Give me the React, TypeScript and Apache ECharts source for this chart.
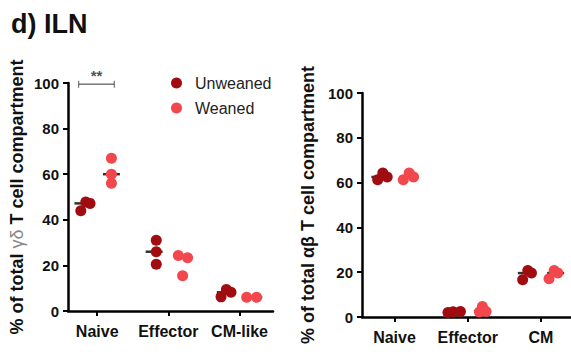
import React, { useEffect, useRef } from "react";
import * as echarts from "echarts";

// ---- Data ----
const categoriesLeft = ["Naive", "Effector", "CM-like"];
const categoriesRight = ["Naive", "Effector", "CM"];
const groups = ["Unweaned", "Weaned"];

// γδ T cells (left panel): values per category
const gdUnweaned = [
  [44, 47.8, 47.2],
  [31, 26, 20.5],
  [6.2, 9.4, 8.2],
];
const gdWeaned = [
  [67, 60, 56],
  [24.3, 23.4, 15.5],
  [6, 6],
];
// αβ T cells (right panel)
const abUnweaned = [
  [61.3, 64.3, 62.5],
  [2.0, 2.3, 2.5],
  [16.6, 20.8, 19.6],
];
const abWeaned = [
  [61.3, 64.3, 62.5],
  [2.2, 4.7, 2.5],
  [17.1, 20.8, 19.6],
];

// horizontal jitter of each dot within its group (category units)
const gdUnweanedJitter = [
  [-0.03, 0.04, 0.1],
  [0.03, 0.03, 0.03],
  [-0.06, 0.015, 0.08],
];
const gdWeanedJitter = [
  [0, 0, 0],
  [-0.06, 0.07, 0],
  [-0.1, 0.04],
];
const abUnweanedJitter = [
  [-0.03, 0.04, 0.1],
  [-0.07, 0, 0.1],
  [-0.05, 0.02, 0.07],
];
const abWeanedJitter = [
  [-0.08, 0, 0.06],
  [-0.04, 0, 0.05],
  [-0.09, -0.02, 0.03],
];

const significance = "**";

// ---- Styling ----
const COLOR_UNWEANED = "#a10c10";
const COLOR_WEANED = "#f2474c";
const FONT = "'Liberation Sans', Arial, Helvetica, sans-serif";
const GROUP_OFFSET = [-0.2, 0.2];

function median(a: number[]) {
  const s = [...a].sort((x, y) => x - y);
  const m = Math.floor(s.length / 2);
  return s.length % 2 ? s[m] : (s[m - 1] + s[m]) / 2;
}

function points(vals: number[][], jit: number[][], g: number) {
  const out: number[][] = [];
  vals.forEach((arr, c) =>
    arr.forEach((v, i) => out.push([c + GROUP_OFFSET[g] + jit[c][i], v]))
  );
  return out;
}

function medians(vals: number[][], g: number) {
  return vals.map((arr, c) => [c + GROUP_OFFSET[g], median(arr)]);
}

export default function App() {
  const ref = useRef<HTMLDivElement>(null);

  useEffect(() => {
    if (!ref.current) return;
    const chart = echarts.init(ref.current, undefined, { renderer: "svg" });

    const yAxisBase = (gridIndex: number, name: string, nameGap: number) => ({
      type: "value",
      gridIndex,
      min: 0,
      max: 100,
      interval: 20,
      name,
      nameLocation: "middle",
      nameGap,
      nameRotate: 90,
      nameTextStyle: {
        rich: {
          b: { fontFamily: FONT, fontWeight: "bold", fontSize: 18, color: "#111" },
          g: { fontFamily: FONT, fontWeight: "normal", fontSize: 18, color: "#888" },
        },
      },
      axisLine: { show: true, onZero: false, lineStyle: { color: "#000", width: 2.5 } },
      axisTick: { show: true, length: 5, lineStyle: { color: "#000", width: 2 } },
      axisLabel: {
        fontFamily: FONT,
        fontWeight: "bold",
        fontSize: 15,
        color: "#111",
        margin: 9,
      },
      splitLine: { show: false },
    });

    const xAxisBase = (gridIndex: number, cats: string[], min: number, max: number) => ({
      type: "value",
      gridIndex,
      min,
      max,
      axisLine: { show: true, onZero: false, lineStyle: { color: "#000", width: 2.5 } },
      axisTick: {
        show: true,
        length: 5,
        customValues: [0, 1, 2],
        lineStyle: { color: "#000", width: 2 },
      },
      axisLabel: {
        customValues: [0, 1, 2],
        formatter: (v: number) => cats[Math.round(v)] ?? "",
        fontFamily: FONT,
        fontWeight: "bold",
        fontSize: 16,
        color: "#111",
        margin: 12,
      },
      splitLine: { show: false },
    });

    const dotSeries = (name: string, data: number[][], color: string, idx: number) => ({
      name,
      type: "scatter",
      xAxisIndex: idx,
      yAxisIndex: idx,
      data,
      symbol: "circle",
      symbolSize: 11,
      itemStyle: { color, opacity: 1 },
      z: 3,
    });

    const medianSeries = (data: number[][], idx: number) => ({
      name: "median",
      type: "scatter",
      xAxisIndex: idx,
      yAxisIndex: idx,
      data,
      symbol: "rect",
      symbolSize: [17, 2.5],
      itemStyle: { color: "#000" },
      silent: true,
      z: 2,
    });

    const bx0 = GROUP_OFFSET[0] - 0.06;
    const bx1 = GROUP_OFFSET[1] + 0.04;
    const by = 99.5;

    chart.setOption({
      animation: false,
      backgroundColor: "#fff",
      title: {
        text: "d) ILN",
        left: 6,
        top: 5,
        textStyle: { fontFamily: FONT, fontWeight: "bold", fontSize: 27, color: "#111" },
      },
      legend: {
        data: groups,
        orient: "vertical",
        left: 166,
        top: 70,
        itemGap: 9,
        itemWidth: 11,
        itemHeight: 11,
        icon: "circle",
        textStyle: { fontFamily: FONT, fontSize: 16, color: "#222", padding: [0, 0, 0, 8] },
      },
      grid: [
        { left: 68, top: 83, width: 205, height: 228 },
        { left: 362, top: 93, width: 209, height: 224 },
      ],
      xAxis: [
        xAxisBase(0, categoriesLeft, -0.41, 2.47),
        xAxisBase(1, categoriesRight, -0.444, 2.41),
      ],
      yAxis: [
        yAxisBase(0, "{b|% of total }{g|γδ}{b| T cell compartment}", 42),
        yAxisBase(1, "{b|% of total αβ T cell compartment}", 45),
      ],
      series: [
        medianSeries(medians(gdUnweaned, 0), 0),
        medianSeries(medians(gdWeaned, 1), 0),
        dotSeries(groups[0], points(gdUnweaned, gdUnweanedJitter, 0), COLOR_UNWEANED, 0),
        dotSeries(groups[1], points(gdWeaned, gdWeanedJitter, 1), COLOR_WEANED, 0),
        medianSeries(medians(abUnweaned, 0), 1),
        medianSeries(medians(abWeaned, 1), 1),
        dotSeries(groups[0], points(abUnweaned, abUnweanedJitter, 0), COLOR_UNWEANED, 1),
        dotSeries(groups[1], points(abWeaned, abWeanedJitter, 1), COLOR_WEANED, 1),
        {
          name: "bracket",
          type: "line",
          xAxisIndex: 0,
          yAxisIndex: 0,
          data: [
            [bx0, by],
            [bx1, by],
          ],
          symbol: "none",
          lineStyle: { color: "#333", width: 1 },
          silent: true,
        },
        {
          name: "bracketEnds",
          type: "scatter",
          xAxisIndex: 0,
          yAxisIndex: 0,
          data: [
            [bx0, by],
            [bx1, by],
          ],
          symbol: "rect",
          symbolSize: [1, 7],
          itemStyle: { color: "#333" },
          silent: true,
        },
        {
          name: "sig",
          type: "scatter",
          xAxisIndex: 0,
          yAxisIndex: 0,
          data: [[(bx0 + bx1) / 2, by]],
          symbolSize: 0,
          label: {
            show: true,
            position: "top",
            distance: 1,
            formatter: significance,
            fontFamily: FONT,
            fontWeight: "bold",
            fontSize: 15,
            color: "#222",
          },
          silent: true,
        },
      ],
    });

    return () => chart.dispose();
  }, []);

  return (
    <div
      ref={ref}
      style={{ position: "fixed", left: 0, top: 0, width: 571, height: 352, background: "#fff" }}
    />
  );
}
